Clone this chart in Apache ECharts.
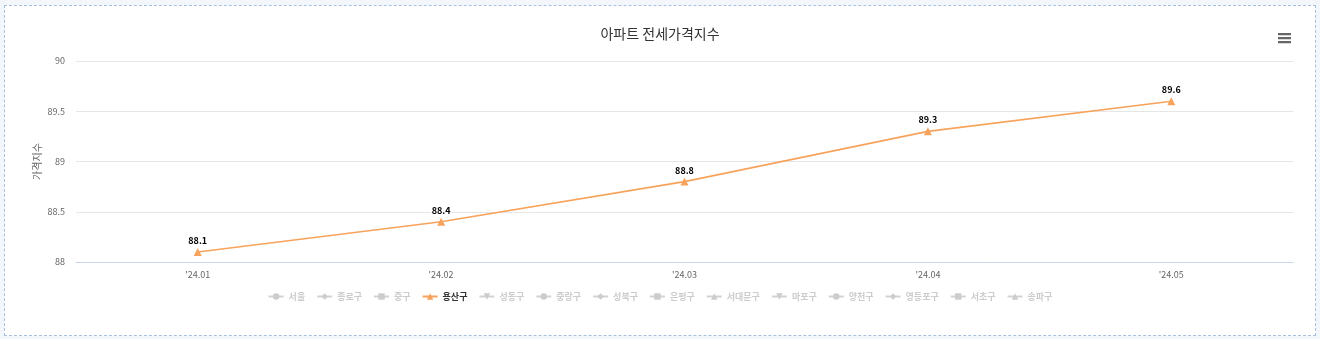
<!DOCTYPE html>
<html>
<head>
<meta charset="utf-8">
<script src="https://cdn.jsdelivr.net/npm/echarts@6/dist/echarts.min.js"></script>
<style>
html,body{margin:0;padding:0;background:#f3f7fc;}
#wrap{position:absolute;left:0;top:0;width:1320px;height:339px;}
#chart{position:absolute;left:0;top:0;width:1320px;height:339px;}
#frame{position:absolute;left:4px;top:5px;width:1310px;height:329px;border:1px dashed #a7bfdc;background:#fff;}
</style>
</head>
<body>
<div id="wrap">
<div id="frame"></div>
<div id="chart"></div>
</div>
<script>
const titleText = '아파트 전세가격지수';
const yAxisName = '가격지수';
const categories = ["'24.01", "'24.02", "'24.03", "'24.04", "'24.05"];
const seriesNames = ['서울','종로구','중구','용산구','성동구','중랑구','성북구','은평구','서대문구','마포구','양천구','영등포구','서초구','송파구'];
const yongsanValues = [88.1, 88.4, 88.8, 89.3, 89.6];
const visibleSeries = '용산구';
const yTicks = [88, 88.5, 89, 89.5, 90];

const palette = ['#7cb5ec','#434348','#90ed7d','#f7a35c','#8085e9','#f15c80','#e4d354','#2b908f','#f45b5b','#91e8e1'];
const triDown = 'path://M0,0L10,0L5,9Z';
const symbols = ['circle','diamond','rect','triangle',triDown];

const dataByName = { '용산구': yongsanValues };

const chart = echarts.init(document.getElementById('chart'), null, {renderer:'canvas'});
const font = '"Noto Sans CJK KR","Noto Sans",sans-serif';
const selected = {};
seriesNames.forEach(n => selected[n] = (n === visibleSeries));

const series = seriesNames.map((n,i) => ({
  name: n,
  type: 'line',
  data: dataByName[n] || [],
  symbol: symbols[i % 5],
  symbolSize: 8,
  showAllSymbol: true,
  color: palette[i % palette.length],
  lineStyle: {width: 1.6},
  label: {
    show: true, position: 'top', distance: 3,
    fontSize: 9, fontWeight: 'bold', color: '#000',
    textBorderColor: '#fff', textBorderWidth: 2, fontFamily: font
  },
  emphasis: {disabled: true}
}));

chart.setOption({
  animation: false,
  textStyle: {fontFamily: font},
  title: {
    text: titleText, left: 'center', top: 22,
    textStyle: {fontSize: 14, fontWeight: 'normal', color: '#333', fontFamily: font}
  },
  toolbox: {
    right: 14, top: 18, itemSize: 13,
    iconStyle: {color: '#666', borderWidth: 0},
    feature: {
      myMenu: {
        show: true, title: '',
        icon: 'path://M0,0H13V2.2H0Z M0,4H13V6.2H0Z M0,8H13V10.2H0Z',
        onclick: function(){}
      }
    }
  },
  legend: {
    data: seriesNames.map(n => ({name: n})),
    selected: selected,
    bottom: 33, left: 'center',
    itemWidth: 15, itemHeight: 8, itemGap: 11,
    inactiveColor: '#cccccc',
    textStyle: {fontSize: 9, color: '#333', fontWeight: 'bold', fontFamily: font}
  },
  grid: {left: 76, right: 27, top: 61, bottom: 77, containLabel: false},
  xAxis: {
    type: 'category', data: categories, boundaryGap: true,
    axisLine: {lineStyle: {color: '#ccd6eb'}},
    axisTick: {show: false},
    axisLabel: {fontSize: 9, color: '#666', margin: 8, fontFamily: font}
  },
  yAxis: {
    type: 'value', min: yTicks[0], max: yTicks[yTicks.length-1], interval: 0.5,
    name: yAxisName, nameLocation: 'middle', nameGap: 34, nameRotate: 90,
    nameMoveOverlap: false,
    nameTextStyle: {fontSize: 10, color: '#666', fontFamily: font},
    axisLine: {show: false}, axisTick: {show: false},
    axisLabel: {fontSize: 9, color: '#666', margin: 11, fontFamily: font},
    splitLine: {lineStyle: {color: '#e6e6e6'}}
  },
  series: series
});
</script>
</body>
</html>
